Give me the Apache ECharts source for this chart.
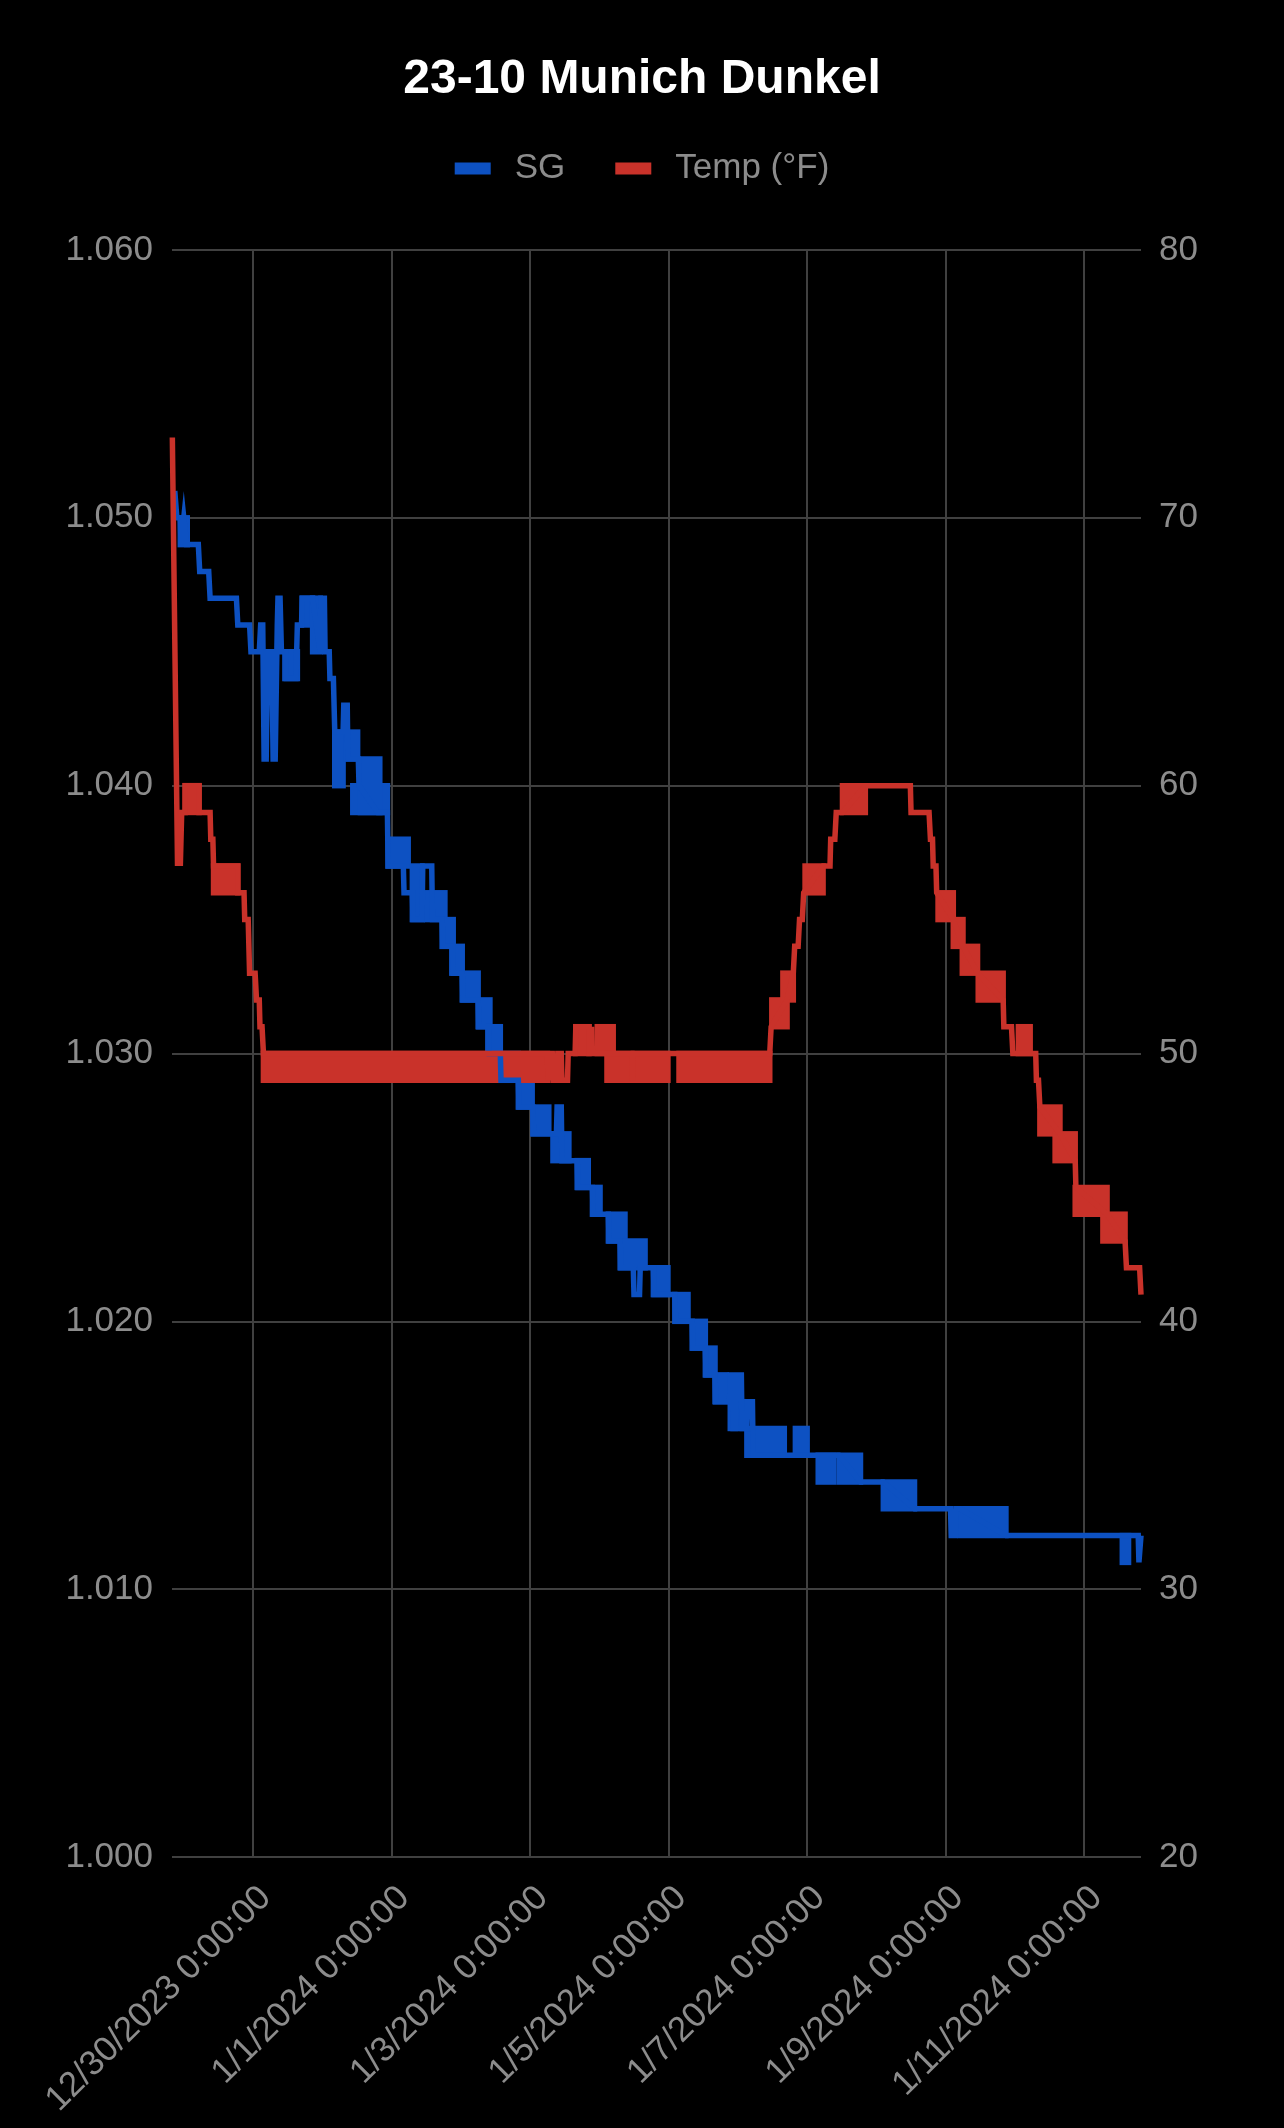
<!DOCTYPE html>
<html>
<head>
<meta charset="utf-8">
<script src="https://cdn.jsdelivr.net/npm/echarts@6/dist/echarts.min.js"></script>
<style>
html,body{margin:0;padding:0;background:#000;}
#chart{width:1284px;height:2128px;}
</style>
</head>
<body>
<div id="chart"></div>
<script>
// x values are days counted from 12/30/2023 0:00:00
const titleText = '23-10 Munich Dunkel';
const seriesNames = ['SG', 'Temp (°F)'];
const xTickValues = [0, 2, 4, 6, 8, 10, 12];
const xTickLabels = ['12/30/2023 0:00:00', '1/1/2024 0:00:00', '1/3/2024 0:00:00', '1/5/2024 0:00:00', '1/7/2024 0:00:00', '1/9/2024 0:00:00', '1/11/2024 0:00:00'];
const xRange = [-1.17, 12.82];
const sgRange = [1.000, 1.060, 0.010];
const tempRange = [20, 80, 10];

// SG readings path [day, SG]
const sgPath = [
  [-1.13,1.051],[-1.10,1.050],[-1.05,1.050],[-1.04,1.049],[-1.00,1.050],[-0.96,1.049],
  [-0.79,1.049],[-0.77,1.048],[-0.64,1.048],[-0.62,1.047],[-0.24,1.047],[-0.22,1.046],
  [-0.05,1.046],[-0.03,1.045],[0.09,1.045],[0.11,1.046],[0.14,1.046],[0.16,1.041],
  [0.19,1.041],[0.21,1.045],[0.27,1.045],[0.29,1.041],[0.32,1.041],[0.35,1.046],
  [0.36,1.047],[0.39,1.047],[0.41,1.045],[0.47,1.045],[0.48,1.044],[0.62,1.044],
  [0.64,1.046],[0.70,1.046],[0.71,1.047],[0.86,1.047],[0.97,1.045],[0.98,1.047],
  [1.03,1.047],[1.04,1.045],[1.10,1.045],[1.11,1.044],[1.16,1.044],[1.18,1.042],
  [1.30,1.042],[1.31,1.043],[1.36,1.043],[1.37,1.041],[1.52,1.041],[1.53,1.040],
  [1.80,1.039],[1.94,1.039],[1.95,1.037],[2.17,1.037],[2.18,1.036],[2.30,1.036],
  [2.31,1.035],[2.44,1.035],[2.45,1.037],[2.58,1.037],[2.59,1.035],[2.73,1.035],
  [2.74,1.034],[2.88,1.034],[2.89,1.033],[3.02,1.033],[3.03,1.032],[3.25,1.032],
  [3.26,1.031],[3.40,1.031],[3.41,1.030],[3.57,1.030],[3.58,1.029],[3.83,1.029],
  [3.84,1.028],[4.04,1.028],[4.05,1.027],[4.38,1.027],[4.39,1.028],[4.45,1.028],
  [4.46,1.026],[4.68,1.026],[4.69,1.025],[4.90,1.025],[4.91,1.024],[5.13,1.024],
  [5.14,1.023],[5.30,1.023],[5.31,1.022],[5.49,1.022],[5.50,1.021],[5.58,1.021],
  [5.59,1.022],[5.78,1.022],[5.79,1.021],[6.09,1.021],[6.10,1.020],[6.34,1.020],
  [6.35,1.019],[6.53,1.019],[6.54,1.018],[6.67,1.018],[6.68,1.017],[6.88,1.017],
  [6.89,1.018],[6.92,1.018],[6.93,1.016],[6.97,1.016],[6.98,1.018],[7.05,1.018],
  [7.06,1.016],[7.13,1.016],[7.14,1.017],[7.21,1.017],[7.22,1.015],[7.83,1.015],
  [8.16,1.015],[8.38,1.015],[8.46,1.015],[8.77,1.014],[9.10,1.014],[9.55,1.013],
  [10.07,1.013],[10.08,1.012],[10.14,1.012],[10.15,1.013],[10.21,1.013],[10.87,1.012],
  [12.55,1.012],[12.64,1.012],[12.78,1.012],[12.79,1.011],[12.81,1.011],[12.82,1.012]
];
// SG stretches where readings flicker between two values [dayFrom, dayTo, low, high]
const sgBands = [
  [-1.05,-0.95,1.049,1.050],[0.46,0.64,1.044,1.045],[0.71,0.86,1.046,1.047],
  [0.86,0.97,1.045,1.047],[1.18,1.30,1.040,1.042],[1.34,1.51,1.041,1.042],
  [1.44,1.94,1.039,1.040],[1.55,1.83,1.039,1.041],[1.95,2.24,1.037,1.038],
  [2.30,2.44,1.035,1.037],[2.51,2.77,1.035,1.036],[2.73,2.89,1.034,1.035],
  [2.87,3.02,1.033,1.034],[3.02,3.25,1.032,1.033],[3.25,3.42,1.031,1.032],
  [3.39,3.57,1.030,1.031],[3.57,3.83,1.029,1.030],[3.83,4.03,1.028,1.029],
  [4.04,4.27,1.027,1.028],[4.33,4.56,1.026,1.027],[4.68,4.84,1.025,1.026],
  [4.90,5.01,1.024,1.025],[5.13,5.37,1.023,1.024],[5.30,5.66,1.022,1.023],
  [5.78,5.99,1.021,1.022],[6.09,6.28,1.020,1.021],[6.34,6.53,1.019,1.020],
  [6.53,6.67,1.018,1.019],[6.67,6.83,1.017,1.018],[6.89,7.08,1.016,1.017],
  [7.13,7.67,1.015,1.016],[7.83,8.00,1.015,1.016],[8.16,8.38,1.014,1.015],
  [8.46,8.77,1.014,1.015],[9.10,9.55,1.013,1.014],[10.21,10.87,1.012,1.013],
  [12.55,12.64,1.011,1.012]
];

// Temperature path [day, °F]
const tempPath = [
  [-1.165,73],[-1.09,57],[-1.07,59],[-1.05,57],[-1.03,59],[-0.98,59],[-0.98,60],
  [-0.78,60],[-0.78,59],[-0.62,59],[-0.61,58],[-0.58,58],[-0.57,57],[-0.22,57],
  [-0.22,56],[-0.13,56],[-0.12,55],[-0.07,55],[-0.05,53],[0.03,53],[0.05,52],
  [0.09,52],[0.10,51],[0.13,51],[0.15,50],[4.25,50],[4.26,49],[4.28,49],[4.29,50],
  [4.32,50],[4.33,49],[4.39,49],[4.40,50],[4.45,50],[4.46,49],[4.54,49],[4.55,50],
  [4.65,50],[4.66,51],[4.85,51],[4.85,50],[4.88,50],[4.89,51],[4.90,50],[4.97,50],
  [5.20,50],[5.47,50],[5.48,49],[5.49,50],[5.99,50],[6.15,50],[7.46,50],[7.48,51],
  [7.71,52],[7.80,53],[7.82,54],[7.87,54],[7.89,55],[7.93,55],[7.95,56],[7.97,56],
  [8.23,57],[8.33,57],[8.34,58],[8.40,58],[8.42,59],[8.51,59],[8.84,60],[9.49,60],
  [9.50,59],[9.76,59],[9.78,58],[9.81,58],[9.82,57],[9.86,57],[9.87,56],[9.89,56],
  [10.11,55],[10.25,54],[10.46,53],[10.83,52],[10.84,51],[10.95,51],[10.97,50],
  [11.05,50],[11.22,50],[11.30,50],[11.31,49],[11.34,49],[11.36,48],[11.65,47],
  [11.87,46],[11.88,45],[12.33,44],[12.59,43],[12.61,42],[12.80,42],[12.82,41]
];
// Temperature flicker stretches [dayFrom, dayTo, low, high]
const tempBands = [
  [-0.98,-0.78,59,60],[-0.57,-0.22,56,57],[0.15,4.25,49,50],[4.66,4.85,50,51],
  [4.97,5.20,50,51],[5.11,5.47,49,50],[5.49,5.99,49,50],[6.15,7.46,49,50],
  [7.49,7.71,51,52],[7.65,7.80,52,53],[7.97,8.23,56,57],[8.51,8.84,59,60],
  [9.89,10.11,55,56],[10.11,10.25,54,55],[10.24,10.46,53,54],[10.47,10.83,52,53],
  [11.05,11.22,50,51],[11.36,11.65,47,48],[11.58,11.87,46,47],[11.87,12.33,44,45],
  [12.27,12.59,43,44]
];

const BLUE = '#0d51c2';
const RED = '#c9322a';
const GRID = '#404040';
const LABEL = '#8c8c8c';
const FONT = "'Liberation Sans', Arial, sans-serif";
const LW = 5.5;

function bandItem(color) {
  return function (params, api) {
    const a = api.coord([api.value(0), api.value(3)]);
    const b = api.coord([api.value(1), api.value(2)]);
    const p = LW / 2;
    return {
      type: 'rect',
      shape: { x: a[0] - p, y: a[1] - p, width: b[0] - a[0] + 2 * p, height: b[1] - a[1] + 2 * p },
      style: { fill: color }
    };
  };
}

const chart = echarts.init(document.getElementById('chart'), null, { renderer: 'canvas' });
chart.setOption({
  backgroundColor: '#000',
  animation: false,
  textStyle: { fontFamily: FONT },
  title: {
    text: titleText,
    left: 'center',
    top: 51,
    textStyle: { color: '#fff', fontSize: 48, fontWeight: 'bold', fontFamily: FONT }
  },
  legend: {
    data: seriesNames,
    top: 146,
    left: 'center',
    icon: 'rect',
    itemWidth: 36,
    itemHeight: 12,
    itemGap: 50,
    textStyle: { color: LABEL, fontSize: 35, fontFamily: FONT, padding: [0, 0, 0, 19] }
  },
  grid: { left: 172, right: 143, top: 250, bottom: 271, containLabel: false },
  xAxis: {
    type: 'value',
    min: xRange[0],
    max: xRange[1],
    axisLine: { show: false },
    axisTick: { show: false, customValues: xTickValues },
    axisLabel: {
      customValues: xTickValues,
      rotate: 45,
      margin: 23,
      verticalAlign: 'top',
      color: LABEL,
      fontSize: 35,
      fontFamily: FONT,
      formatter: function (v) {
        const i = xTickValues.indexOf(v);
        return i >= 0 ? xTickLabels[i] : '';
      }
    },
    splitLine: { show: true, lineStyle: { color: GRID, width: 2 } }
  },
  yAxis: [
    {
      type: 'value',
      min: sgRange[0], max: sgRange[1], interval: sgRange[2],
      axisLine: { show: false }, axisTick: { show: false },
      axisLabel: { color: LABEL, fontSize: 35, fontFamily: FONT, margin: 19,
        formatter: function (v) { return v.toFixed(3); } },
      splitLine: { show: true, lineStyle: { color: GRID, width: 2 } }
    },
    {
      type: 'value',
      min: tempRange[0], max: tempRange[1], interval: tempRange[2],
      axisLine: { show: false }, axisTick: { show: false },
      axisLabel: { color: LABEL, fontSize: 35, fontFamily: FONT, margin: 18 },
      splitLine: { show: false }
    }
  ],
  series: [
    {
      name: seriesNames[0], type: 'line', yAxisIndex: 0, data: sgPath,
      showSymbol: false, symbol: 'none',
      lineStyle: { color: BLUE, width: LW, join: 'miter' },
      itemStyle: { color: BLUE }
    },
    {
      name: seriesNames[0], type: 'custom', yAxisIndex: 0, data: sgBands,
      encode: { x: [0, 1], y: [2, 3] },
      renderItem: bandItem(BLUE), itemStyle: { color: BLUE }
    },
    {
      name: seriesNames[1], type: 'line', yAxisIndex: 1, data: tempPath,
      showSymbol: false, symbol: 'none',
      lineStyle: { color: RED, width: LW, join: 'miter' },
      itemStyle: { color: RED }
    },
    {
      name: seriesNames[1], type: 'custom', yAxisIndex: 1, data: tempBands,
      encode: { x: [0, 1], y: [2, 3] },
      renderItem: bandItem(RED), itemStyle: { color: RED }
    }
  ]
});
</script>
</body>
</html>
